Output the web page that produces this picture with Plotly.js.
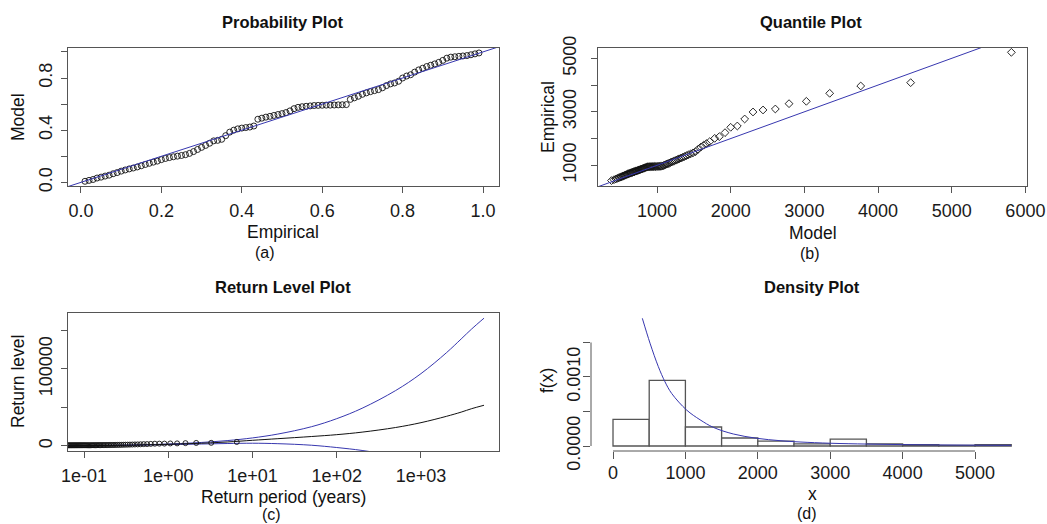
<!DOCTYPE html>
<html>
<head>
<meta charset="utf-8">
<script src="https://cdn.plot.ly/plotly-3.0.1.min.js"></script>
<style>html,body{margin:0;padding:0;background:#fff;}#chart{width:1047px;height:524px;}</style>
</head>
<body>
<div id="chart"></div>
<script>
// ---------- (a) Probability plot ----------
const probEmpirical = [0.01,0.02,0.03,0.04,0.05,0.06,0.07,0.08,0.09,0.10,0.11,0.12,0.13,0.14,0.15,0.16,0.17,0.18,0.19,0.20,
0.21,0.22,0.23,0.24,0.25,0.26,0.27,0.28,0.29,0.30,0.31,0.32,0.33,0.34,0.35,0.36,0.37,0.38,0.39,0.40,
0.41,0.42,0.43,0.44,0.45,0.46,0.47,0.48,0.49,0.50,0.51,0.52,0.53,0.54,0.55,0.56,0.57,0.58,0.59,0.60,
0.61,0.62,0.63,0.64,0.65,0.66,0.67,0.68,0.69,0.70,0.71,0.72,0.73,0.74,0.75,0.76,0.77,0.78,0.79,0.80,
0.81,0.82,0.83,0.84,0.85,0.86,0.87,0.88,0.89,0.90,0.91,0.92,0.93,0.94,0.95,0.96,0.97,0.98,0.99];
const probModel = [0.008,0.015,0.022,0.033,0.040,0.048,0.055,0.066,0.075,0.086,0.095,0.103,0.110,0.118,0.127,0.137,0.146,0.155,0.163,0.174,
0.183,0.190,0.196,0.201,0.206,0.212,0.222,0.236,0.252,0.268,0.283,0.300,0.318,0.322,0.330,0.358,0.385,0.400,0.410,0.416,
0.420,0.424,0.432,0.484,0.492,0.500,0.506,0.513,0.520,0.527,0.535,0.548,0.565,0.575,0.580,0.583,0.586,0.589,0.590,0.591,
0.592,0.592,0.593,0.594,0.595,0.596,0.636,0.648,0.660,0.675,0.686,0.695,0.703,0.711,0.725,0.742,0.755,0.762,0.775,0.800,
0.815,0.825,0.845,0.862,0.875,0.888,0.898,0.908,0.920,0.935,0.952,0.960,0.963,0.966,0.969,0.972,0.978,0.985,0.992];

// ---------- (b) Quantile plot ----------
const quantModel = [382,416,441,461,478,494,508,521,533,546,557,568,579,590,600,610,620,630,640,649,
659,669,678,688,697,707,716,726,736,746,755,765,775,785,795,805,815,826,836,847,
857,868,879,890,901,913,925,937,949,962,975,988,1001,1015,1029,1043,1057,1072,1087,1102,
1118,1134,1150,1167,1184,1202,1220,1239,1259,1280,1302,1325,1349,1374,1400,1427,1456,1488,1522,1558,
1594,1632,1672,1715,1783,1846,1923,2000,2090,2190,2303,2439,2606,2792,3027,3344,3765,4443,5810];
const quantEmpirical = [430,462,490,512,530,548,563,578,592,606,620,634,646,658,670,681,692,702,712,722,
731,741,750,760,769,778,787,797,806,816,826,836,846,856,866,876,887,898,909,920,
930,938,944,948,950,951,952,953,954,955,956,957,958,959,960,962,965,973,990,1008,
1027,1046,1065,1085,1106,1127,1148,1171,1194,1219,1245,1273,1301,1331,1362,1394,1428,1466,1508,1600,
1680,1750,1815,1885,2009,2072,2221,2421,2470,2732,2994,3069,3106,3305,3393,3692,3966,4090,5224];

// ---------- (c) Return level plot ----------
const rpPointPeriod = [0.0640,0.0657,0.0675,0.0694,0.0713,0.0733,0.0753,0.0774,0.0796,0.0818,0.0842,0.0866,0.0890,0.0916,0.0943,
0.0971,0.1000,0.1029,0.1061,0.1093,0.1127,0.1163,0.1200,0.1239,0.1280,0.1322,0.1367,0.1415,0.1465,0.1517,0.1573,0.1632,
0.1695,0.1761,0.1832,0.1908,0.1990,0.2077,0.2171,0.2272,0.2382,0.2501,0.2631,0.2773,0.2929,0.3102,0.3293,0.3508,0.3749,
0.4022,0.4333,0.4693,0.5113,0.5608,0.6203,0.6930,0.7838,0.9005,1.0563,1.2742,1.6011,2.1458,3.2352,6.5032];
const rpPointLevel = quantEmpirical.slice(quantEmpirical.length - rpPointPeriod.length);
const rlPeriod = [0.06,0.1,0.2,0.5,1,2,5,10,20,50,100,200,500,1000,2000,3000,4000,5600];
const rlFit    = [300,450,700,1400,2200,3200,5200,7400,9500,12300,14700,18000,24000,30300,38500,44000,48500,52900];
const rlUpper  = [350,500,800,1600,2600,4000,7000,10500,15500,25000,35500,49000,72000,94000,121000,139000,152000,166000];
const rlLower  = [250,400,600,1200,1800,2400,3200,3600,3000,1000,-2000,-5800,-13000,-22000,-33000,-41000,-47000,-56000];

// ---------- (d) Density plot ----------
const histBinStart = [0,500,1000,1500,2000,2500,3000,3500,4000,4500,5000];
const histDensity  = [0.000387,0.000952,0.000275,0.000116,0.000072,0.00003,0.0001,0.00003,0.00002,0.00001,0.00002];
const densX = [405,511,626,718,811,1018,1202,1386,1662,1985,2307,2583,3000,3500,4000,4500,5000,5500];
const densY = [0.00185,0.00149,0.00115,0.00093,0.00076,0.00052,0.00038,0.00027,0.000174,0.000112,0.000077,0.000058,0.00004,0.000028,0.00002,0.000015,0.000012,0.00001];

const W = 1047, H = 524;
const px = v => v / W;
const py = v => 1 - v / H;
const BLUE = 'rgb(55,55,175)';
const FONT = 'Liberation Sans, Arial, sans-serif';

const traces = [
  {x: probEmpirical, y: probModel, xaxis: 'x', yaxis: 'y', mode: 'markers', type: 'scatter',
   marker: {symbol: 'circle-open', size: 6, color: '#111', line: {width: 0.9}}},
  {x: [-1, 2], y: [-1, 2], xaxis: 'x', yaxis: 'y', mode: 'lines', type: 'scatter', line: {color: BLUE, width: 1}},

  {x: quantModel, y: quantEmpirical, xaxis: 'x2', yaxis: 'y2', mode: 'markers', type: 'scatter',
   marker: {symbol: 'diamond-open', size: 6, color: '#111', line: {width: 0.9}}},
  {x: [0, 7000], y: [0, 7000], xaxis: 'x2', yaxis: 'y2', mode: 'lines', type: 'scatter', line: {color: BLUE, width: 1}},

  {x: rlPeriod, y: rlUpper, xaxis: 'x3', yaxis: 'y3', mode: 'lines', type: 'scatter', line: {color: BLUE, width: 1, shape: 'spline'}},
  {x: rlPeriod, y: rlLower, xaxis: 'x3', yaxis: 'y3', mode: 'lines', type: 'scatter', line: {color: BLUE, width: 1, shape: 'spline'}},
  {x: rlPeriod, y: rlFit, xaxis: 'x3', yaxis: 'y3', mode: 'lines', type: 'scatter', line: {color: '#111', width: 1, shape: 'spline'}},
  {x: rpPointPeriod, y: rpPointLevel, xaxis: 'x3', yaxis: 'y3', mode: 'markers', type: 'scatter',
   marker: {symbol: 'circle-open', size: 5, color: '#111', line: {width: 0.9}}},

  {x: histBinStart, y: histDensity, xaxis: 'x4', yaxis: 'y4', type: 'bar', width: 500, offset: 0,
   marker: {color: '#fff', line: {color: '#555', width: 1.3}}},
  {x: densX, y: densY, xaxis: 'x4', yaxis: 'y4', mode: 'lines', type: 'scatter', line: {color: BLUE, width: 1, shape: 'spline'}}
];

const axBase = {
  showline: true, linecolor: '#555', linewidth: 1, mirror: true,
  ticks: 'outside', ticklen: 6, tickcolor: '#555', tickwidth: 1,
  showgrid: false, zeroline: false, fixedrange: true,
  tickfont: {family: FONT, size: 18, color: '#1a1a1a'},
  ticklabelstandoff: 2
};
const ax = o => Object.assign({}, axBase, o);

const layout = {
  width: W, height: H,
  margin: {l: 0, r: 0, t: 0, b: 0},
  paper_bgcolor: '#fff', plot_bgcolor: '#fff',
  showlegend: false,
  font: {family: FONT, color: '#1a1a1a'},
  bargap: 0,
  xaxis: ax({domain: [px(68), px(499)], range: [-0.0323, 1.0398], anchor: 'y',
    tickvals: [0, 0.2, 0.4, 0.6, 0.8, 1.0], ticktext: ['0.0', '0.2', '0.4', '0.6', '0.8', '1.0']}),
  yaxis: ax({domain: [py(186), py(48)], range: [-0.028, 1.030], anchor: 'x', tickangle: -90,
    tickvals: [0, 0.2, 0.4, 0.6, 0.8, 1.0], ticktext: ['0.0', '', '0.4', '', '0.8', '']}),
  xaxis2: ax({domain: [px(598), px(1027)], range: [199, 6022], anchor: 'y2',
    tickvals: [1000, 2000, 3000, 4000, 5000, 6000], ticktext: ['1000', '2000', '3000', '4000', '5000', '6000']}),
  yaxis2: ax({domain: [py(186), py(48)], range: [227, 5386], anchor: 'x2', tickangle: -90, ticklabelstandoff: 8,
    tickvals: [1000, 2000, 3000, 4000, 5000], ticktext: ['1000', '', '3000', '', '5000']}),
  xaxis3: ax({domain: [px(68), px(499)], type: 'log', range: [-1.19, 3.926], anchor: 'y3',
    tickvals: [0.1, 1, 10, 100, 1000], ticktext: ['1e-01', '1e+00', '1e+01', '1e+02', '1e+03']}),
  yaxis3: ax({domain: [py(451), py(313)], range: [-6500, 172700], anchor: 'x3', tickangle: -90,
    tickvals: [0, 50000, 100000, 150000], ticktext: ['0', '', '100000', '']}),
  xaxis4: ax({domain: [px(591), px(1027)], range: [-304, 5718], anchor: 'y4', showline: false, mirror: false, ticklen: 7,
    ticklabelstandoff: -2,
    tickvals: [0, 1000, 2000, 3000, 4000, 5000], ticktext: ['0', '1000', '2000', '3000', '4000', '5000']}),
  yaxis4: ax({domain: [py(451), py(313)], range: [-0.0000725, 0.001927], anchor: 'x4', showline: false, mirror: false, ticklen: 7,
    tickangle: -90, ticklabelstandoff: -4,
    tickvals: [0, 0.0005, 0.0010, 0.0015], ticktext: ['0.0000', '', '0.0010', '']}),
  shapes: [
    {type: 'line', xref: 'x4', yref: 'paper', x0: 0, x1: 5000, y0: py(451), y1: py(451), line: {color: '#555', width: 1}},
    {type: 'line', xref: 'paper', yref: 'y4', x0: px(591), x1: px(591), y0: 0, y1: 0.0015, line: {color: '#555', width: 1}}
  ],
  annotations: []
};

function ann(text, x, y, size, opts) {
  layout.annotations.push(Object.assign({
    text: text, x: px(x), y: py(y), xref: 'paper', yref: 'paper',
    xanchor: 'center', yanchor: 'middle', showarrow: false,
    font: {family: FONT, size: size, color: '#111'}
  }, opts || {}));
}
// subplot titles
ann('<b>Probability Plot</b>', 283, 22, 16.5);
ann('<b>Quantile Plot</b>', 811, 22, 16.5);
ann('<b>Return Level Plot</b>', 283, 287, 16.5);
ann('<b>Density Plot</b>', 812, 287, 16.5);
// axis titles
ann('Empirical', 283, 232, 17.5);
ann('Model', 18, 117, 17.5, {textangle: -90});
ann('Model', 813, 233, 17.5);
ann('Empirical', 548, 117, 17.5, {textangle: -90});
ann('Return period (years)', 283, 497, 17.5);
ann('Return level', 18, 382, 17.5, {textangle: -90});
ann('x', 812, 494, 17.5);
ann('f(x)', 547, 381, 17.5, {textangle: -90});
// panel letters
ann('(a)', 265, 252, 16);
ann('(b)', 810, 253, 16);
ann('(c)', 271, 514, 16);
ann('(d)', 807, 513, 16);

Plotly.newPlot('chart', traces, layout, {staticPlot: true, displayModeBar: false});
</script>
</body>
</html>
